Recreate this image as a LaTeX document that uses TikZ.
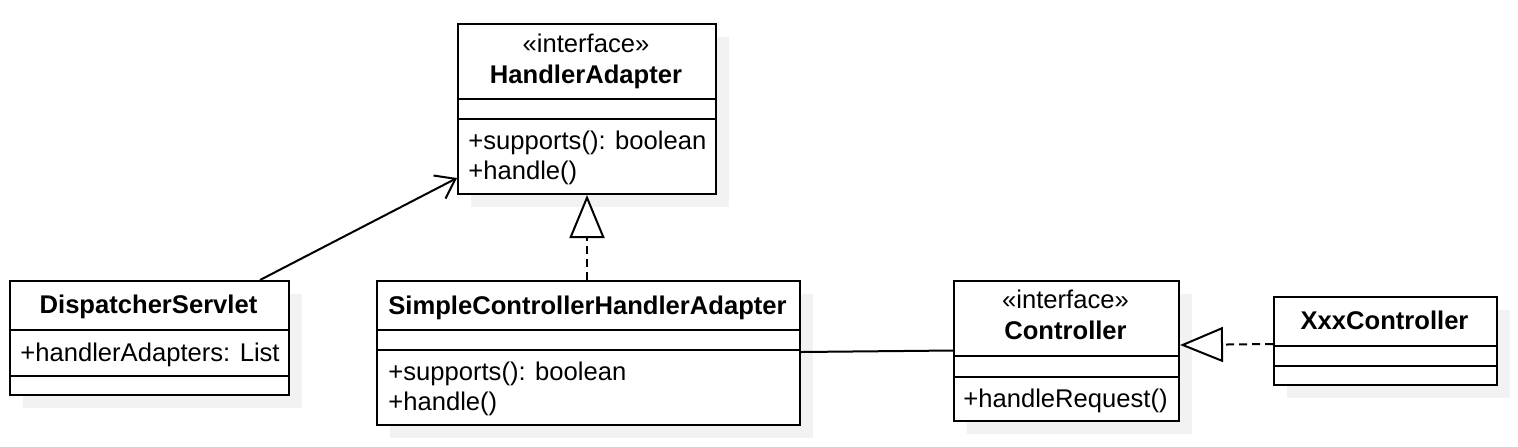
\documentclass[tikz,border=0pt]{standalone}
\usepackage{fontspec}
\setmainfont{Liberation Sans}
\usetikzlibrary{arrows.meta,calc}
\definecolor{shadowgray}{RGB}{242,242,242}
\begin{document}
\begin{tikzpicture}[x=0.5pt,y=-0.5pt,
  every node/.style={font=\fontsize{12.8}{15}\selectfont},
  classbox/.style={draw=black,line width=1pt,fill=white,inner sep=0pt,anchor=north west},
  shadowbox/.style={fill=shadowgray,draw=none},
  divider/.style={draw=black,line width=1pt},
  title/.style={inner sep=0pt,anchor=base,font=\fontsize{12.8}{15}\selectfont\bfseries},
  stereo/.style={inner sep=0pt,anchor=base},
  member/.style={inner sep=0pt,anchor=base west},
  assoc/.style={draw=black,line width=1pt},
  navig/.style={draw=black,line width=1pt,-{Straight Barb[length=9pt,width=13pt,line width=1pt]}},
  realize/.style={draw=black,line width=1pt,dash pattern=on 4pt off 2.5pt,
    -{Triangle[open,length=21.5pt,width=17.5pt,line width=1pt,fill=white]}}
]
\useasboundingbox (0,0) rectangle (1518,446);

% shadows
\fill[shadowbox] (471,37) rectangle (729,207);
\fill[shadowbox] (23,294) rectangle (302,408);
\fill[shadowbox] (390,294) rectangle (813,438);
\fill[shadowbox] (967,294) rectangle (1192,434);
\fill[shadowbox] (1287,310) rectangle (1510,398);

% HandlerAdapter
\node[classbox,minimum width=129pt,minimum height=85pt] (ha) at (457,23) {};
\draw[divider] ($(ha.north west)+(0,76)$) -- ($(ha.north east)+(0,76)$);
\draw[divider] ($(ha.north west)+(0,96)$) -- ($(ha.north east)+(0,96)$);
\node[stereo] (hast) at (586,52) {«interface»};
\node[title] (hant) at (586,83) {HandlerAdapter};
\node[member] (ham1) at (468,149) {+supports(): boolean};
\node[member] (ham2) at (468,179) {+handle()};

% DispatcherServlet
\node[classbox,minimum width=139.5pt,minimum height=57pt] (ds) at (9,280) {};
\draw[divider] ($(ds.north west)+(0,50)$) -- ($(ds.north east)+(0,50)$);
\draw[divider] ($(ds.north west)+(0,96)$) -- ($(ds.north east)+(0,96)$);
\node[title] (dsnt) at (148.5,313) {DispatcherServlet};
\node[member] (dsa1) at (20,361) {+handlerAdapters: List};

% SimpleControllerHandlerAdapter
\node[classbox,minimum width=211.5pt,minimum height=72pt] (scha) at (376,280) {};
\draw[divider] ($(scha.north west)+(0,50)$) -- ($(scha.north east)+(0,50)$);
\draw[divider] ($(scha.north west)+(0,70)$) -- ($(scha.north east)+(0,70)$);
\node[title] (schant) at (587.5,314) {SimpleControllerHandlerAdapter};
\node[member] (scham1) at (388,380) {+supports(): boolean};
\node[member] (scham2) at (388,410) {+handle()};

% Controller
\node[classbox,minimum width=112.5pt,minimum height=70pt] (ctrl) at (953,280) {};
\draw[divider] ($(ctrl.north west)+(0,76)$) -- ($(ctrl.north east)+(0,76)$);
\draw[divider] ($(ctrl.north west)+(0,97)$) -- ($(ctrl.north east)+(0,97)$);
\node[stereo] (ctrlst) at (1065.5,308) {«interface»};
\node[title] (ctrlnt) at (1065.5,339) {Controller};
\node[member] (ctrlm1) at (963,407) {+handleRequest()};

% XxxController
\node[classbox,minimum width=111.5pt,minimum height=44pt] (xxx) at (1273,296) {};
\draw[divider] ($(xxx.north west)+(0,50)$) -- ($(xxx.north east)+(0,50)$);
\draw[divider] ($(xxx.north west)+(0,70)$) -- ($(xxx.north east)+(0,70)$);
\node[title] (xxxnt) at (1384.5,329) {XxxController};

% connectors
\draw[navig] ($(ds.north east)+(-30,0)$) -- ($(ha.south west)+(0,-17)$);
\draw[realize] (scha.north -| ha.south) -- (ha.south);
\draw[assoc] ($(scha.east)+(0,-1)$) -- ($(ctrl.west)+(0,-0.5)$);
\draw[realize] ($(xxx.north west)+(0,48)$) -- ($(ctrl.north east)+(0,65)$);
\end{tikzpicture}
\end{document}
